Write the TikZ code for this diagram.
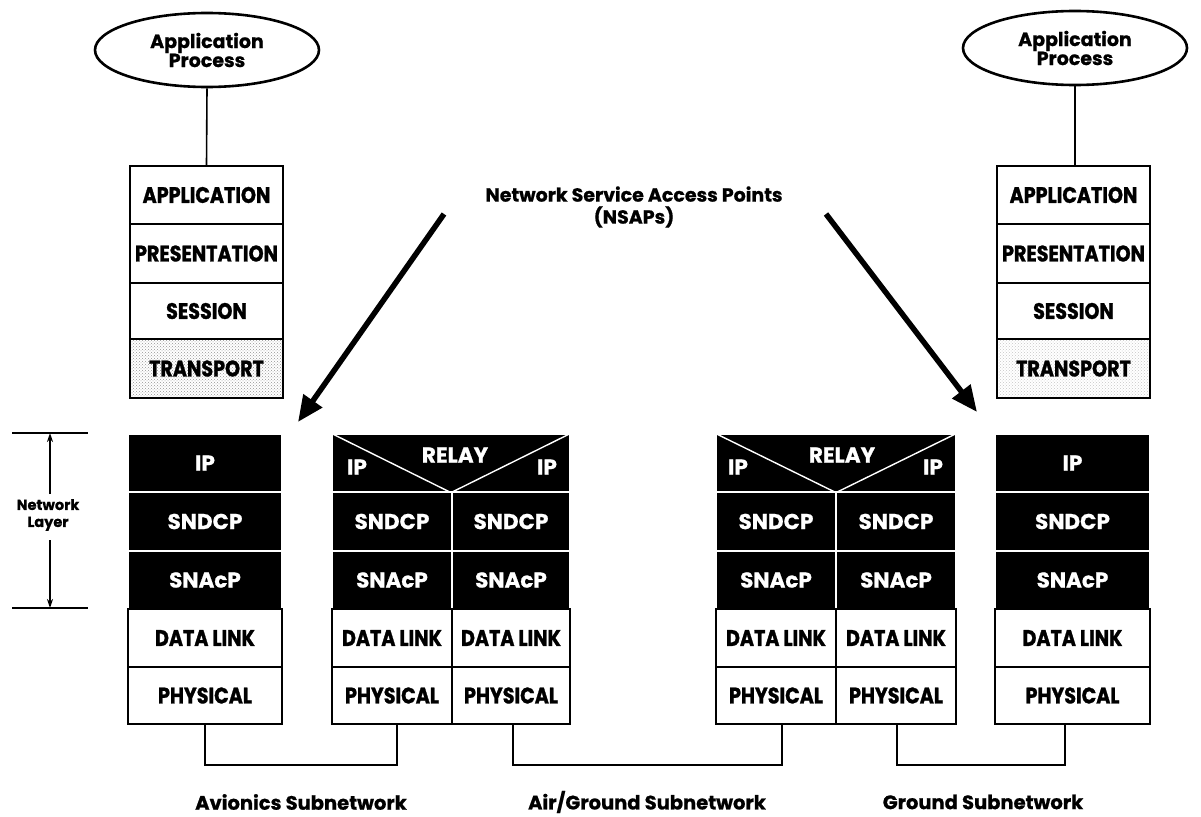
\documentclass[tikz,border=0pt]{standalone}
\usepackage{fontspec}
\setmainfont{Poppins}[BoldFeatures={FakeBold=0.8}]
\newfontfamily\cond{Poppins}[FakeStretch=0.85, BoldFeatures={FakeBold=1.2}]
\usetikzlibrary{patterns,arrows.meta,shapes.geometric}
\tikzset{
  wbox/.style={draw=black, line width=1.8pt, fill=white, rectangle, inner sep=0pt,
    font=\cond\bfseries\fontsize{22.5}{25}\selectfont},
  bbox/.style={draw=white, line width=1.2pt, fill=black, rectangle, inner sep=0pt,
    text=white, font=\bfseries\fontsize{21.5}{23}\selectfont},
  tbox/.style={wbox, pattern=crosshatch dots, pattern color=#1},
  wl/.style={text=white, inner sep=0pt, font=\bfseries\fontsize{21.5}{23}\selectfont},
  proc/.style={draw=black, line width=2.6pt, ellipse, inner sep=0pt,
    minimum width=224pt, minimum height=74pt, align=center,
    font=\bfseries\fontsize{19}{21}\selectfont},
  wire/.style={draw=black, line width=1.6pt},
  bigarrow/.style={line width=5.5pt, -{Triangle[length=26pt,width=22pt]}},
  lbl/.style={inner sep=0pt, align=center, font=\bfseries\fontsize{19.5}{21}\selectfont},
}
\begin{document}
\begin{tikzpicture}[x=1pt,y=-1pt]
\useasboundingbox (0,0) rectangle (1201,816);

% ---------- left end system ----------
\node[proc] (lproc) at (207,50) {Application\\[-2pt]Process};
\node[wbox, minimum width=153pt, minimum height=58pt] (lapp) at (206.5,195) {APPLICATION};
\node[wbox, minimum width=153pt, minimum height=59pt] (lpre) at (206.5,253.5) {PRESENTATION};
\node[wbox, minimum width=153pt, minimum height=56pt] (lses) at (206.5,311) {SESSION};
\node[tbox=gray!85, minimum width=153pt, minimum height=59pt] (ltra) at (206.5,368.5) {TRANSPORT};
\draw[wire] (lproc.south) -- (lapp.north);

\node[bbox, minimum width=154pt, minimum height=58pt] (lip) at (205,463) {IP};
\node[bbox, minimum width=154pt, minimum height=59pt] (lsnd) at (205,521.5) {SNDCP};
\node[bbox, minimum width=154pt, minimum height=58pt] (lsna) at (205,580) {SNAcP};
\node[wbox, minimum width=154pt, minimum height=58pt] (ldl) at (205,638) {DATA LINK};
\node[wbox, minimum width=154pt, minimum height=57pt] (lphy) at (205,695.5) {PHYSICAL};

% ---------- relay 1 ----------
\node[bbox, minimum width=238pt, minimum height=58pt] (r1top) at (451,463) {};
\draw[white, line width=1.4pt] (r1top.north west) -- (r1top.south) -- (r1top.north east);
\node[wl] (r1relay) at (455,455) {RELAY};
\node[wl] (r1ipl) at (357,467) {IP};
\node[wl] (r1ipr) at (547,467) {IP};
\node[bbox, minimum width=120pt, minimum height=59pt] (r1lsnd) at (392,521.5) {SNDCP};
\node[bbox, minimum width=118pt, minimum height=59pt] (r1rsnd) at (511,521.5) {SNDCP};
\node[bbox, minimum width=120pt, minimum height=58pt] (r1lsna) at (392,580) {SNAcP};
\node[bbox, minimum width=118pt, minimum height=58pt] (r1rsna) at (511,580) {SNAcP};
\node[wbox, minimum width=120pt, minimum height=58pt] (r1ldl) at (392,638) {DATA LINK};
\node[wbox, minimum width=118pt, minimum height=58pt] (r1rdl) at (511,638) {DATA LINK};
\node[wbox, minimum width=120pt, minimum height=57pt] (r1lphy) at (392,695.5) {PHYSICAL};
\node[wbox, minimum width=118pt, minimum height=57pt] (r1rphy) at (511,695.5) {PHYSICAL};

% ---------- relay 2 ----------
\node[bbox, minimum width=240pt, minimum height=58pt] (r2top) at (836,463) {};
\draw[white, line width=1.4pt] (r2top.north west) -- (r2top.south) -- (r2top.north east);
\node[wl] (r2relay) at (842,455) {RELAY};
\node[wl] (r2ipl) at (738,467) {IP};
\node[wl] (r2ipr) at (933,467) {IP};
\node[bbox, minimum width=120pt, minimum height=59pt] (r2lsnd) at (776,521.5) {SNDCP};
\node[bbox, minimum width=120pt, minimum height=59pt] (r2rsnd) at (896,521.5) {SNDCP};
\node[bbox, minimum width=120pt, minimum height=58pt] (r2lsna) at (776,580) {SNAcP};
\node[bbox, minimum width=120pt, minimum height=58pt] (r2rsna) at (896,580) {SNAcP};
\node[wbox, minimum width=120pt, minimum height=58pt] (r2ldl) at (776,638) {DATA LINK};
\node[wbox, minimum width=120pt, minimum height=58pt] (r2rdl) at (896,638) {DATA LINK};
\node[wbox, minimum width=120pt, minimum height=57pt] (r2lphy) at (776,695.5) {PHYSICAL};
\node[wbox, minimum width=120pt, minimum height=57pt] (r2rphy) at (896,695.5) {PHYSICAL};

% ---------- right end system ----------
\node[proc] (rproc) at (1075,48) {Application\\[-2pt]Process};
\node[wbox, minimum width=153pt, minimum height=58pt] (rapp) at (1073.5,195) {APPLICATION};
\node[wbox, minimum width=153pt, minimum height=59pt] (rpre) at (1073.5,253.5) {PRESENTATION};
\node[wbox, minimum width=153pt, minimum height=56pt] (rses) at (1073.5,311) {SESSION};
\node[tbox=gray!45, minimum width=153pt, minimum height=59pt] (rtra) at (1073.5,368.5) {TRANSPORT};
\draw[wire] (rproc.south) -- (rapp.north -| rproc.south);

\node[bbox, minimum width=155pt, minimum height=58pt] (rip) at (1072.5,463) {IP};
\node[bbox, minimum width=155pt, minimum height=59pt] (rsnd) at (1072.5,521.5) {SNDCP};
\node[bbox, minimum width=155pt, minimum height=58pt] (rsna) at (1072.5,580) {SNAcP};
\node[wbox, minimum width=155pt, minimum height=58pt] (rdl) at (1072.5,638) {DATA LINK};
\node[wbox, minimum width=155pt, minimum height=57pt] (rphy) at (1072.5,695.5) {PHYSICAL};

% ---------- subnetwork connectors ----------
\coordinate (a1) at (205,765);
\coordinate (a2) at (397,765);
\coordinate (a2t) at (397,724);
\coordinate (g1t) at (513,724);
\coordinate (g1) at (513,765);
\coordinate (g2) at (782,765);
\coordinate (g2t) at (782,724);
\coordinate (s1t) at (897,724);
\coordinate (s1) at (897,765);
\coordinate (s2) at (1065,765);
\coordinate (s2t) at (1065,724);
\draw[wire] (lphy.south) -- (a1) -- (a2) -- (a2t);
\draw[wire] (g1t) -- (g1) -- (g2) -- (g2t);
\draw[wire] (s1t) -- (s1) -- (s2) -- (s2t);

\node[lbl] (avl) at (301,802) {Avionics Subnetwork};
\node[lbl] (agl) at (647,802) {Air/Ground Subnetwork};
\node[lbl] (gdl) at (983,802) {Ground Subnetwork};

% ---------- NSAP label and arrows ----------
\node[lbl, font=\bfseries\fontsize{19}{22}\selectfont] (nsap) at (634,207) {Network Service Access Points\\(NSAPs)};
\coordinate (la0) at (444,214);
\coordinate (la1) at (298,422);
\coordinate (ra0) at (826,214);
\coordinate (ra1) at (977,412);
\draw[bigarrow] (la0) -- (la1);
\draw[bigarrow] (ra0) -- (ra1);

% ---------- network layer bracket ----------
\coordinate (nt0) at (12,433);
\coordinate (nt1) at (88,433);
\coordinate (nb0) at (12,608);
\coordinate (nb1) at (88,608);
\draw[wire] (nt0) -- (nt1);
\draw[wire] (nb0) -- (nb1);
\node[inner sep=0pt, align=center, font=\bfseries\fontsize{14.5}{17}\selectfont] (nl) at (48,515) {Network\\Layer};
\coordinate (nta) at (50,433);
\coordinate (nba) at (50,608);
\draw[wire, -{Stealth[length=9pt,width=6pt]}] (50,494) -- (nta);
\draw[wire, -{Stealth[length=9pt,width=6pt]}] (50,540) -- (nba);
\end{tikzpicture}
\end{document}
